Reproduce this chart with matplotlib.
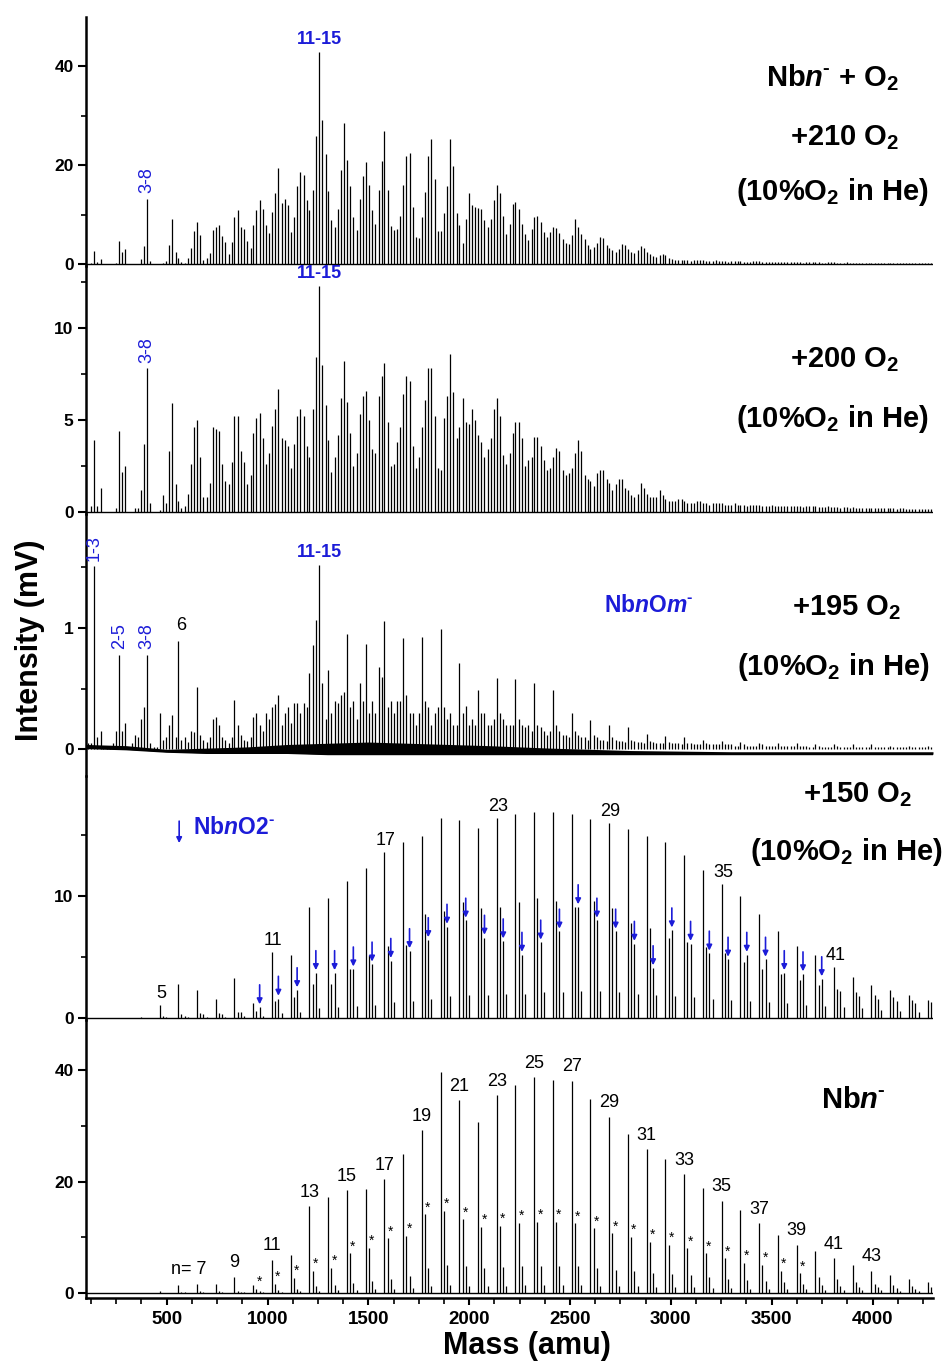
import numpy as np
import matplotlib
matplotlib.use("Agg")
import matplotlib.pyplot as plt
from matplotlib.ticker import MultipleLocator

plt.rcParams['font.family'] = ['Liberation Sans', 'DejaVu Sans']
plt.rcParams['mathtext.fontset'] = 'custom'
plt.rcParams['mathtext.rm'] = 'Liberation Sans:bold'
plt.rcParams['mathtext.it'] = 'Liberation Sans:italic'
plt.rcParams['mathtext.bf'] = 'Liberation Sans:bold'
plt.rcParams['mathtext.bfit'] = 'Liberation Sans:bold:italic'
plt.rcParams['mathtext.default'] = 'bf'

NB = 92.906   # Nb mass (amu)
OX = 15.999   # O mass (amu)
BLUE = '#1c1cd8'

# --- peak heights (mV) of Nb_n O_j, rows n = 1..46, columns j = 0..5 ---
p210 = np.array([
    [0, 0, 0.3, 2.7, 0.5, 1.0], [0, 0, 0, 0, 0.2, 4.6], [2.4, 3.0, 0, 0, 0.1, 0.1],
    [1.0, 3.7, 13.2, 0.6, 0, 0], [0, 0.2, 0.6, 3.9, 9.0, 2.5], [1.3, 0.4, 0.3, 1.2, 3.2, 6.7],
    [8.4, 5.9, 0.8, 1.2, 2.2, 6.9], [7.5, 7.8, 5.6, 4.4, 2.0, 4.5], [9.5, 10.9, 7.5, 7.0, 4.7, 3.2],
    [7.9, 10.9, 13.0, 11.1, 7.9, 6.2], [10.6, 14.4, 19.3, 12.3, 13.1, 12.0],
    [6.4, 9.4, 15.8, 18.5, 17.9, 13.0], [10.9, 15.0, 25.8, 42.8, 29.0, 22.2],
    [14.7, 8.9, 7.5, 11.1, 19.0, 28.5], [21.1, 15.7, 9.4, 6.8, 13.1, 17.8],
    [20.6, 15.9, 11.0, 8.1, 15.0, 20.9], [26.9, 15.0, 7.7, 6.8, 7.1, 9.7],
    [15.9, 21.9, 22.4, 11.6, 5.5, 5.2], [9.4, 14.6, 21.9, 25.2, 17.2, 6.7],
    [6.7, 10.4, 15.7, 25.3, 19.9, 10.4], [7.9, 4.3, 9.1, 14.3, 11.9, 11.5],
    [11.4, 11.2, 8.8, 7.5, 9.0, 13.0], [16.0, 14.3, 9.8, 6.1, 8.0, 12.2],
    [12.6, 11.2, 8.0, 6.0, 4.8, 7.0], [9.5, 9.8, 8.5, 6.5, 5.4, 6.5],
    [7.5, 7.2, 6.2, 5.0, 4.2, 4.0], [5.8, 9.0, 7.5, 6.0, 5.0, 3.8],
    [3.0, 3.5, 4.2, 5.4, 5.2, 3.8], [3.3, 2.8, 2.5, 3.0, 4.0, 3.9],
    [3.0, 2.4, 2.2, 2.8, 3.7, 3.3], [2.5, 2.0, 1.7, 1.4, 1.8, 2.0],
    [1.8, 1.3, 1.0, 0.9, 0.9, 0.8], [0.9, 0.8, 0.7, 0.8, 0.9, 0.8],
    [0.8, 0.7, 0.6, 0.7, 0.8, 0.7], [0.7, 0.6, 0.5, 0.6, 0.7, 0.6],
    [0.6, 0.5, 0.5, 0.5, 0.6, 0.6], [0.6, 0.5, 0.4, 0.5, 0.5, 0.5],
    [0.5, 0.4, 0.4, 0.4, 0.5, 0.5], [0.5, 0.4, 0.3, 0.4, 0.4, 0.4],
    [0.4, 0.4, 0.3, 0.3, 0.4, 0.4], [0.4, 0.3, 0.3, 0.3, 0.4, 0.3],
    [0.3, 0.3, 0.3, 0.3, 0.3, 0.3], [0.3, 0.3, 0.2, 0.3, 0.3, 0.3],
    [0.3, 0.2, 0.2, 0.2, 0.3, 0.2], [0.2, 0.2, 0.2, 0.2, 0.2, 0.2],
    [0.2, 0.2, 0.2, 0.2, 0.2, 0.2],
])

p200 = np.array([
    [0, 0, 0.3, 3.9, 0.3, 1.3], [0, 0, 0, 0, 0.2, 4.4], [2.2, 2.5, 0, 0, 0.2, 0.2],
    [1.2, 3.7, 7.8, 0.5, 0, 0], [0.1, 0.9, 0.5, 3.3, 5.9, 1.5], [0.6, 0.2, 0.3, 1.0, 2.6, 4.6],
    [5.0, 3.0, 0.8, 0.8, 1.6, 4.6], [4.5, 4.4, 2.6, 1.7, 1.5, 2.7], [5.2, 5.2, 3.3, 2.7, 1.5, 2.0],
    [4.3, 5.1, 5.4, 4.0, 2.6, 3.2], [4.7, 5.6, 6.7, 4.0, 3.9, 3.6],
    [2.4, 3.7, 5.2, 5.6, 5.2, 3.6], [3.0, 5.6, 8.4, 12.3, 8.0, 5.8],
    [3.9, 2.2, 3.0, 4.2, 6.2, 8.2], [6.0, 4.3, 2.5, 3.2, 5.3, 6.3],
    [6.6, 5.0, 3.4, 3.2, 6.3, 7.4], [8.1, 4.9, 2.5, 2.6, 3.8, 4.6],
    [6.4, 7.4, 7.1, 3.6, 2.4, 3.0], [4.6, 6.1, 7.8, 7.8, 5.2, 2.4],
    [2.3, 5.1, 6.3, 8.6, 6.5, 4.0], [4.6, 6.2, 4.9, 4.8, 5.6, 5.0],
    [4.2, 3.8, 3.0, 3.4, 4.0, 5.6], [6.2, 5.2, 3.1, 2.6, 3.2, 4.3],
    [4.9, 4.9, 4.0, 2.5, 2.8, 3.0], [4.1, 4.1, 3.6, 2.8, 2.3, 2.4],
    [3.0, 3.5, 3.3, 2.3, 2.0, 2.1], [2.4, 3.2, 3.9, 3.3, 2.0, 1.8],
    [1.7, 1.4, 2.1, 2.3, 2.3, 1.8], [1.6, 1.2, 1.5, 1.8, 1.8, 1.3],
    [1.2, 0.9, 0.8, 1.0, 1.6, 1.3], [1.0, 0.8, 0.8, 0.8, 1.2, 0.9],
    [0.7, 0.6, 0.6, 0.6, 0.7, 0.7], [0.6, 0.5, 0.5, 0.5, 0.6, 0.6],
    [0.5, 0.5, 0.4, 0.5, 0.5, 0.5], [0.5, 0.4, 0.4, 0.4, 0.5, 0.4],
    [0.4, 0.4, 0.35, 0.4, 0.4, 0.4], [0.4, 0.35, 0.3, 0.35, 0.4, 0.35],
    [0.35, 0.3, 0.3, 0.3, 0.35, 0.3], [0.3, 0.3, 0.25, 0.3, 0.3, 0.3],
    [0.3, 0.25, 0.25, 0.25, 0.3, 0.25], [0.25, 0.25, 0.2, 0.25, 0.25, 0.2],
    [0.25, 0.2, 0.2, 0.2, 0.2, 0.2], [0.2, 0.2, 0.2, 0.2, 0.2, 0.2],
    [0.2, 0.2, 0.15, 0.2, 0.2, 0.15], [0.15, 0.15, 0.15, 0.15, 0.15, 0.15],
    [0.15, 0.15, 0.1, 0.15, 0.15, 0.1],
])

p195 = np.array([
    [0, 0.05, 0.05, 1.51, 0.1, 0.15], [0.03, 0.03, 0.03, 0.05, 0.15, 0.78],
    [0.15, 0.22, 0.02, 0.05, 0.12, 0.1], [0.25, 0.35, 0.78, 0.05, 0.02, 0.02],
    [0.3, 0.08, 0.1, 0.2, 0.28, 0.1], [0.89, 0.08, 0.1, 0.06, 0.15, 0.14],
    [0.51, 0.12, 0.08, 0.06, 0.1, 0.25], [0.27, 0.2, 0.1, 0.08, 0.05, 0.1],
    [0.41, 0.2, 0.12, 0.08, 0.07, 0.1], [0.27, 0.3, 0.2, 0.15, 0.3, 0.25],
    [0.35, 0.37, 0.45, 0.2, 0.3, 0.35], [0.22, 0.38, 0.38, 0.3, 0.38, 0.35],
    [0.63, 0.86, 1.07, 1.52, 0.55, 0.25], [0.65, 0.3, 0.4, 0.38, 0.45, 0.47],
    [0.95, 0.35, 0.4, 0.25, 0.55, 0.4], [0.87, 0.3, 0.4, 0.3, 0.68, 0.6],
    [1.06, 0.35, 0.4, 0.3, 0.4, 0.4], [0.92, 0.45, 0.3, 0.3, 0.2, 0.3],
    [0.93, 0.4, 0.35, 0.2, 0.3, 0.35], [0.99, 0.35, 0.25, 0.3, 0.2, 0.2],
    [0.71, 0.3, 0.36, 0.2, 0.25, 0.2], [0.49, 0.3, 0.3, 0.2, 0.2, 0.25],
    [0.59, 0.3, 0.25, 0.2, 0.2, 0.2], [0.58, 0.25, 0.2, 0.18, 0.2, 0.15],
    [0.55, 0.2, 0.18, 0.15, 0.12, 0.15], [0.49, 0.2, 0.15, 0.12, 0.12, 0.1],
    [0.30, 0.15, 0.12, 0.1, 0.1, 0.08], [0.24, 0.12, 0.1, 0.08, 0.08, 0.07],
    [0.20, 0.1, 0.08, 0.07, 0.07, 0.06], [0.18, 0.08, 0.07, 0.06, 0.06, 0.05],
    [0.13, 0.07, 0.06, 0.05, 0.05, 0.05], [0.11, 0.06, 0.05, 0.05, 0.05, 0.04],
    [0.10, 0.05, 0.05, 0.04, 0.04, 0.04], [0.08, 0.05, 0.04, 0.04, 0.04, 0.04],
    [0.07, 0.04, 0.04, 0.04, 0.03, 0.03], [0.06, 0.04, 0.03, 0.03, 0.03, 0.03],
    [0.05, 0.04, 0.03, 0.03, 0.03, 0.03], [0.05, 0.03, 0.03, 0.03, 0.03, 0.03],
    [0.05, 0.03, 0.03, 0.03, 0.02, 0.02], [0.04, 0.03, 0.02, 0.02, 0.02, 0.02],
    [0.04, 0.03, 0.02, 0.02, 0.02, 0.02], [0.04, 0.02, 0.02, 0.02, 0.02, 0.02],
    [0.04, 0.02, 0.02, 0.02, 0.02, 0.02], [0.03, 0.02, 0.02, 0.02, 0.02, 0.02],
    [0.03, 0.02, 0.02, 0.02, 0.02, 0.02], [0.03, 0.02, 0.02, 0.02, 0.02, 0.02],
])
# +195 O2 noisy baseline band
band_mass = [100, 300, 500, 700, 900, 1100, 1300, 1500, 1700, 1900, 2100, 2400, 2800, 3300, 4300]
band_low = [0.01, 0.0, -0.02, -0.03, -0.03, -0.03, -0.04, -0.04, -0.04, -0.04, -0.04, -0.04, -0.04, -0.04, -0.04]
band_high = [0.04, 0.03, 0.0, 0.01, 0.02, 0.04, 0.05, 0.06, 0.05, 0.04, 0.03, 0.01, -0.01, -0.02, -0.02]

# rows n = 1..46, columns: Nb_n, Nb_nO, Nb_nO2, Nb_nO3
p150 = np.array([
    [0, 0, 0, 0], [0, 0, 0, 0], [0, 0, 0, 0], [0.1, 0, 0, 0],
    [1.1, 0.2, 0.1, 0], [2.8, 0.3, 0.2, 0.1], [2.3, 0.4, 0.3, 0.1], [1.6, 0.4, 0.3, 0.1],
    [3.3, 0.5, 0.5, 0.2], [1.2, 0.6, 0.9, 0.2], [5.4, 1.4, 1.6, 0.4], [5.2, 1.7, 2.3, 0.5],
    [9.1, 2.8, 3.7, 0.8], [9.8, 2.8, 3.7, 0.9], [11.2, 4.0, 4.0, 1.0], [12.3, 5.2, 4.4, 1.1],
    [13.6, 5.9, 4.7, 1.3], [14.4, 6.0, 5.5, 1.4], [14.9, 8.5, 6.4, 1.6], [16.4, 8.8, 7.5, 1.8],
    [16.2, 9.5, 8.0, 1.9], [15.6, 9.0, 6.6, 1.9], [16.4, 9.1, 6.3, 2.0], [16.7, 9.5, 5.2, 2.0],
    [16.9, 9.8, 6.2, 2.1], [16.9, 9.6, 7.1, 2.1], [16.7, 9.1, 9.1, 2.2], [16.3, 9.6, 8.0, 2.2],
    [16.0, 9.0, 7.1, 2.1], [15.5, 7.8, 6.1, 2.0], [14.9, 7.4, 4.1, 1.9], [14.4, 6.6, 7.2, 1.8],
    [13.4, 6.2, 6.1, 1.7], [12.1, 5.8, 5.3, 1.6], [11.0, 5.3, 4.8, 1.5], [10.0, 4.6, 5.2, 1.4],
    [8.5, 4.0, 4.8, 1.3], [7.1, 3.6, 3.7, 1.2], [5.9, 3.1, 3.6, 1.1], [5.2, 2.7, 3.2, 1.0],
    [4.2, 2.4, 2.2, 0.9], [3.4, 2.1, 1.8, 0.8], [2.7, 1.9, 1.6, 0.7], [2.3, 1.7, 1.4, 0.6],
    [1.9, 1.5, 1.2, 0.5], [1.5, 1.3, 1.0, 0.5],
])

pbare = np.array([
    [0, 0, 0, 0], [0, 0, 0, 0], [0, 0, 0, 0], [0, 0, 0, 0],
    [0.3, 0.05, 0, 0], [1.4, 0.2, 0.1, 0], [1.7, 0.3, 0.1, 0], [1.7, 0.3, 0.1, 0],
    [2.9, 0.4, 0.2, 0.1], [1.4, 0.8, 0.3, 0.1], [6.0, 1.7, 0.6, 0.2], [6.9, 2.7, 0.8, 0.3],
    [15.6, 4.0, 1.2, 0.4], [17.2, 4.5, 1.4, 0.5], [18.4, 7.1, 1.8, 0.6], [18.6, 8.1, 2.2, 0.7],
    [20.4, 9.8, 2.6, 0.8], [24.9, 10.2, 3.0, 0.9], [29.2, 14.1, 4.5, 1.2], [39.7, 14.7, 5.0, 1.4],
    [34.6, 13.2, 4.8, 1.3], [30.7, 11.9, 4.5, 1.3], [35.5, 12.0, 4.6, 1.3], [37.3, 12.6, 4.8, 1.4],
    [38.7, 12.8, 4.9, 1.4], [38.3, 12.8, 4.9, 1.4], [38.1, 12.5, 4.8, 1.4], [34.9, 11.6, 4.5, 1.3],
    [31.6, 10.7, 4.2, 1.3], [28.6, 10.1, 4.0, 1.2], [25.8, 9.2, 3.6, 1.1], [24.1, 8.6, 3.4, 1.1],
    [21.3, 8.0, 3.2, 1.0], [18.9, 7.1, 2.9, 0.9], [16.6, 6.2, 2.6, 0.9], [14.9, 5.4, 2.4, 0.8],
    [12.5, 5.0, 2.2, 0.8], [10.4, 4.0, 1.9, 0.7], [8.7, 3.5, 1.7, 0.7], [7.5, 2.9, 1.5, 0.6],
    [6.2, 2.6, 1.3, 0.6], [5.0, 2.0, 1.1, 0.5], [4.0, 1.6, 1.0, 0.5], [3.2, 1.4, 0.9, 0.4],
    [2.5, 1.2, 0.8, 0.4], [2.0, 1.0, 0.7, 0.4],
])

# peak labels: (text, n, j)
labels_210 = [("3-8", 4, 2), ("11-15", 13, 3)]
labels_200 = [("3-8", 4, 2), ("11-15", 13, 3)]
labels_195 = [("1-3", 1, 3), ("2-5", 2, 5), ("3-8", 4, 2), ("11-15", 13, 3)]
n_labels_150 = [5, 11, 17, 23, 29, 35, 41]
n_labels_bare = [7, 9, 11, 13, 15, 17, 19, 21, 23, 25, 27, 29, 31, 33, 35, 37, 39, 41, 43]
arrow_n_150 = list(range(10, 41))
star_n_bare = list(range(10, 40))


def slot_mass(n, j):
    return NB * n + OX * j


def peak_arrays(table):
    n_idx, j_idx = np.nonzero(table > 0)
    return slot_mass(n_idx + 1, j_idx), table[n_idx, j_idx]


fig = plt.figure(figsize=(9.46, 13.65), dpi=100)
W, H = 946.0, 1365.0
x0, x1 = 86, 933
# pixel rows of panels, y limits
rows = [(17, 266), (266, 514), (514, 776), (776, 1020), (1020, 1298)]
ylims = [(-0.4, 49.9), (-0.11, 13.37), (-0.22, 1.94), (-0.16, 19.84), (-0.9, 49.0)]
majors = [20, 5, 1, 10, 20]
minors = [10, 2.5, 0.5, 5, 10]
tables = [p210, p200, p195, p150, pbare]

axes = []
for (top, bot), yl, mj, mn, tab in zip(rows, ylims, majors, minors, tables):
    ax = fig.add_axes([x0 / W, 1 - bot / H, (x1 - x0) / W, (bot - top) / H])
    ax.set_xlim(100, 4300)
    ax.set_ylim(*yl)
    ax.patch.set_alpha(0)
    for s in ['top', 'right', 'bottom']:
        ax.spines[s].set_visible(False)
    ax.spines['left'].set_linewidth(1.8)
    ax.yaxis.set_major_locator(MultipleLocator(mj))
    ax.yaxis.set_minor_locator(MultipleLocator(mn))
    ax.tick_params(axis='y', which='major', direction='out', length=6, width=1.5,
                   labelsize=12.5, pad=3)
    ax.tick_params(axis='y', which='minor', direction='out', length=3.5, width=1.2)
    ax.tick_params(axis='x', which='both', bottom=False, labelbottom=False)
    for lab in ax.get_yticklabels():
        lab.set_fontweight('bold')
    m, h = peak_arrays(tab)
    ax.vlines(m, 0, h, color='black', lw=0.9)
    axes.append(ax)

ax1, ax2, ax3, ax4, ax5 = axes
for ax in (ax1, ax2, ax4, ax5):
    ax.axhline(0, color='black', lw=1.0, zorder=1)
ax3.fill_between(band_mass, band_low, band_high, color='black', lw=0)
ax3.plot(band_mass, band_low, color='black', lw=1.5)

# bottom axis
ax5.spines['bottom'].set_visible(True)
ax5.spines['bottom'].set_linewidth(1.8)
ax5.xaxis.set_major_locator(MultipleLocator(500))
ax5.xaxis.set_minor_locator(MultipleLocator(125))
ax5.tick_params(axis='x', which='major', bottom=True, labelbottom=True, direction='out',
                length=5, width=1.5, labelsize=13.5, pad=4)
ax5.tick_params(axis='x', which='minor', bottom=True, direction='out', length=4, width=1.2)
ax5.set_xticks([500, 1000, 1500, 2000, 2500, 3000, 3500, 4000])
for lab in ax5.get_xticklabels() + ax5.get_yticklabels():
    lab.set_fontweight('bold')

fig.text(527 / W, 1 - 1346 / H, 'Mass (amu)', ha='center', va='center',
         fontsize=22, fontweight='bold')
fig.text(30 / W, 1 - 640 / H, 'Intensity (mV)', ha='center', va='center',
         rotation=90, fontsize=22, fontweight='bold')

# blue oxide labels in the three top panels
for ax, labs, tab in [(ax1, labels_210, p210), (ax2, labels_200, p200), (ax3, labels_195, p195)]:
    for txt, n, j in labs:
        x, y = slot_mass(n, j), tab[n - 1, j]
        if txt == "11-15":
            ax.annotate(txt, (x, y), xytext=(0, 3), textcoords='offset points',
                        ha='center', va='bottom', color=BLUE, fontsize=13,
                        fontweight='bold', annotation_clip=False)
        else:
            ax.annotate(txt, (x, y), xytext=(0, 4), textcoords='offset points',
                        ha='center', va='bottom', color=BLUE, fontsize=13,
                        rotation=90, annotation_clip=False)
ax3.annotate("6", (slot_mass(6, 0), p195[5, 0]), xytext=(2, 5), textcoords='offset points',
             ha='center', va='bottom', fontsize=13)

# +150 O2 panel: cluster sizes and Nb_nO2- arrows
for n in n_labels_150:
    ax4.annotate(str(n), (slot_mass(n, 0), p150[n - 1, 0]), xytext=(1, 2),
                 textcoords='offset points', ha='center', va='bottom', fontsize=13)
for n in arrow_n_150:
    ax4.annotate('', xy=(slot_mass(n, 2), p150[n - 1, 2]), xytext=(0, 16),
                 textcoords='offset points',
                 arrowprops=dict(arrowstyle='-|>', color=BLUE, lw=1.2,
                                 mutation_scale=8, shrinkA=0, shrinkB=2))
ax4.annotate('', xy=(0.110, 0.725), xytext=(0.110, 0.815), xycoords='axes fraction',
             arrowprops=dict(arrowstyle='-|>', color=BLUE, lw=1.2, mutation_scale=8,
                             shrinkA=0, shrinkB=0))
ax4.text(0.126, 0.79, r'Nb$\mathbfit{n}$O2$^{\text{-}}$', transform=ax4.transAxes, color=BLUE,
         fontsize=16.5, fontweight='bold', ha='left', va='center')

# bare Nb_n- panel: cluster sizes and oxide stars
for n in n_labels_bare:
    txt = "n= 7" if n == 7 else str(n)
    ha = 'right' if n == 7 else 'center'
    dx = 7 if n == 7 else 0
    ax5.annotate(txt, (slot_mass(n, 0), pbare[n - 1, 0]), xytext=(dx, 4),
                 textcoords='offset points', ha=ha, va='bottom', fontsize=13)
for n in star_n_bare:
    ax5.annotate('*', (slot_mass(n, 1), pbare[n - 1, 1]), xytext=(2, 0),
                 textcoords='offset points', ha='center', va='bottom', fontsize=10)

# panel titles
big = dict(fontsize=21, fontweight='bold', ha='center', va='center')
ax1.text(0.881, 0.755, r'Nb$\mathbfit{n}^{\text{-}}$ + O$_2$', transform=ax1.transAxes, **big)
ax1.text(0.896, 0.514, r'+210 O$_2$', transform=ax1.transAxes, **big)
ax1.text(0.881, 0.297, r'(10%O$_2$ in He)', transform=ax1.transAxes, **big)
ax2.text(0.896, 0.621, r'+200 O$_2$', transform=ax2.transAxes, **big)
ax2.text(0.881, 0.383, r'(10%O$_2$ in He)', transform=ax2.transAxes, **big)
ax3.text(0.898, 0.641, r'+195 O$_2$', transform=ax3.transAxes, **big)
ax3.text(0.882, 0.416, r'(10%O$_2$ in He)', transform=ax3.transAxes, **big)
ax3.text(0.664, 0.649, r'Nb$\mathbfit{n}$O$\mathbfit{m}^{\text{-}}$', transform=ax3.transAxes,
         color=BLUE, fontsize=16.5, fontweight='bold', ha='center', va='center')
ax4.text(0.911, 0.922, r'+150 O$_2$', transform=ax4.transAxes, **big)
ax4.text(0.898, 0.689, r'(10%O$_2$ in He)', transform=ax4.transAxes, **big)
ax5.text(0.906, 0.712, r'Nb$\mathbfit{n}^{\text{-}}$', transform=ax5.transAxes, **big)

fig.savefig('out.png', dpi=100)
